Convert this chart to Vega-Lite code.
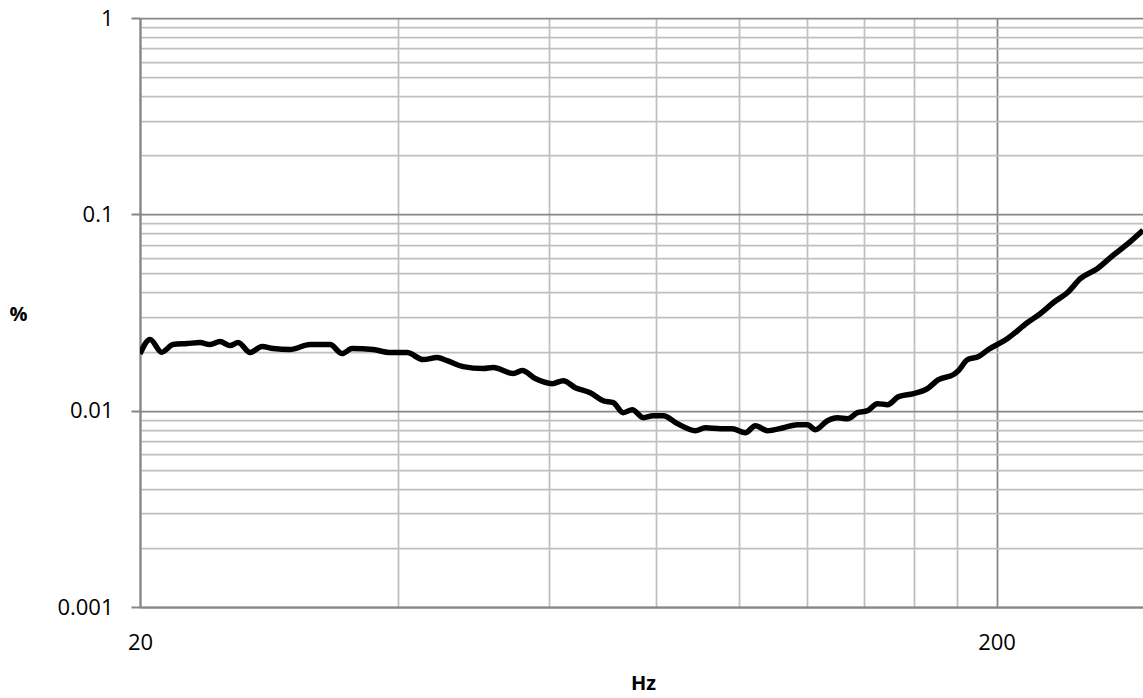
{
  "$schema": "https://vega.github.io/schema/vega-lite/v6.json",
  "width": 1003,
  "height": 589,
  "autosize": {"type": "none"},
  "padding": {"left": 140, "top": 18, "right": 0, "bottom": 91},
  "background": "white",
  "config": {
    "view": {"stroke": null},
    "font": "Open Sans"
  },
  "data": {
    "values": [
      {"hz": 20.0, "pct": 0.01947},
      {"hz": 20.55, "pct": 0.02303},
      {"hz": 21.2, "pct": 0.01984},
      {"hz": 21.86, "pct": 0.02172},
      {"hz": 22.7, "pct": 0.02197},
      {"hz": 23.5, "pct": 0.02223},
      {"hz": 24.14, "pct": 0.02172},
      {"hz": 24.8, "pct": 0.02249},
      {"hz": 25.48, "pct": 0.02146},
      {"hz": 26.04, "pct": 0.02223},
      {"hz": 26.89, "pct": 0.01977},
      {"hz": 27.77, "pct": 0.02121},
      {"hz": 28.61, "pct": 0.02072},
      {"hz": 29.94, "pct": 0.02048},
      {"hz": 31.59, "pct": 0.02172},
      {"hz": 33.34, "pct": 0.02172},
      {"hz": 34.43, "pct": 0.01953},
      {"hz": 35.37, "pct": 0.02072},
      {"hz": 37.43, "pct": 0.02048},
      {"hz": 39.18, "pct": 0.01977},
      {"hz": 41.01, "pct": 0.01977},
      {"hz": 42.82, "pct": 0.0182},
      {"hz": 44.46, "pct": 0.01864},
      {"hz": 45.67, "pct": 0.01799},
      {"hz": 47.68, "pct": 0.01677},
      {"hz": 50.32, "pct": 0.01638},
      {"hz": 51.69, "pct": 0.01658},
      {"hz": 54.55, "pct": 0.01545},
      {"hz": 55.88, "pct": 0.016},
      {"hz": 57.87, "pct": 0.01457},
      {"hz": 60.58, "pct": 0.01373},
      {"hz": 62.4, "pct": 0.01422},
      {"hz": 64.44, "pct": 0.0131},
      {"hz": 67.09, "pct": 0.01235},
      {"hz": 69.48, "pct": 0.01124},
      {"hz": 71.38, "pct": 0.01099},
      {"hz": 73.33, "pct": 0.00977},
      {"hz": 75.12, "pct": 0.01012},
      {"hz": 77.38, "pct": 0.00921},
      {"hz": 79.49, "pct": 0.00943},
      {"hz": 81.66, "pct": 0.00943},
      {"hz": 84.79, "pct": 0.00859},
      {"hz": 89.0, "pct": 0.00791},
      {"hz": 91.43, "pct": 0.00819},
      {"hz": 95.2, "pct": 0.0081},
      {"hz": 98.31, "pct": 0.0081},
      {"hz": 101.8, "pct": 0.00772},
      {"hz": 104.6, "pct": 0.00838},
      {"hz": 108.0, "pct": 0.00791},
      {"hz": 112.8, "pct": 0.00819},
      {"hz": 117.1, "pct": 0.00848},
      {"hz": 120.3, "pct": 0.00848},
      {"hz": 122.9, "pct": 0.008},
      {"hz": 126.95, "pct": 0.00889},
      {"hz": 130.4, "pct": 0.00921},
      {"hz": 133.97, "pct": 0.0091},
      {"hz": 137.6, "pct": 0.00977},
      {"hz": 141.4, "pct": 0.01},
      {"hz": 145.2, "pct": 0.01086},
      {"hz": 149.2, "pct": 0.01073},
      {"hz": 153.7, "pct": 0.01179},
      {"hz": 160.0, "pct": 0.01221},
      {"hz": 166.1, "pct": 0.01295},
      {"hz": 171.1, "pct": 0.0144},
      {"hz": 178.2, "pct": 0.01527},
      {"hz": 180.6, "pct": 0.016},
      {"hz": 185.0, "pct": 0.0182},
      {"hz": 190.6, "pct": 0.01886},
      {"hz": 195.7, "pct": 0.02048},
      {"hz": 206.0, "pct": 0.0233},
      {"hz": 217.4, "pct": 0.02812},
      {"hz": 225.1, "pct": 0.03126},
      {"hz": 233.1, "pct": 0.03556},
      {"hz": 242.1, "pct": 0.04},
      {"hz": 250.7, "pct": 0.04715},
      {"hz": 262.4, "pct": 0.05303},
      {"hz": 271.8, "pct": 0.06034},
      {"hz": 286.8, "pct": 0.07282},
      {"hz": 296.5, "pct": 0.08287}
    ]
  },
  "mark": {"type": "line", "color": "#000000", "strokeWidth": 5.5, "interpolate": "monotone", "clip": true},
  "encoding": {
    "x": {
      "field": "hz",
      "type": "quantitative",
      "scale": {"type": "log", "domain": [20, 296.5], "nice": false, "zero": false},
      "axis": {
        "title": "Hz",
        "titleFont": "Open Sans",
        "titleFontSize": 20,
        "titleFontWeight": "bold",
        "titleColor": "#000000",
        "titleAngle": 0,
        "titleAlign": "center",
        "titleBaseline": "middle",
        "titleX": 503,
        "titleY": 76,
        "values": [20, 40, 60, 80, 100, 120, 140, 160, 180, 200],
        "format": "d",
        "labelExpr": "datum.value == 20 || datum.value == 200 ? datum.label : ''",
        "labelOverlap": false,
        "labelBound": false,
        "labelFlush": false,
        "labelFont": "Open Sans",
        "labelFontSize": 22,
        "labelColor": "#000000",
        "labelPadding": 25,
        "ticks": false,
        "tickSize": 0,
        "domain": true,
        "domainColor": "#868686",
        "domainWidth": 2,
        "grid": true,
        "gridColor": {"condition": {"test": "datum.value == 200 || datum.value == 20", "value": "#868686"}, "value": "#bfbfbf"},
        "gridWidth": 1.75
      }
    },
    "y": {
      "field": "pct",
      "type": "quantitative",
      "scale": {"type": "log", "domain": [0.001, 1], "nice": false, "zero": false},
      "axis": {
        "title": "%",
        "titleFont": "Open Sans",
        "titleFontSize": 20,
        "titleFontWeight": "bold",
        "titleColor": "#000000",
        "titleAngle": 0,
        "titleAlign": "center",
        "titleBaseline": "middle",
        "titleX": -122,
        "titleY": 296,
        "values": [0.001, 0.002, 0.003, 0.004, 0.005, 0.006, 0.007, 0.008, 0.009, 0.01, 0.02, 0.03, 0.04, 0.05, 0.06, 0.07, 0.08, 0.09, 0.1, 0.2, 0.3, 0.4, 0.5, 0.6, 0.7, 0.8, 0.9, 1],
        "format": "~g",
        "labelExpr": "datum.value == 0.001 || datum.value == 0.01 || datum.value == 0.1 || datum.value == 1 ? datum.label : ''",
        "labelOverlap": false,
        "labelBound": false,
        "labelFlush": false,
        "labelFont": "Open Sans",
        "labelFontSize": 22,
        "labelColor": "#000000",
        "labelPadding": 18,
        "ticks": true,
        "tickSize": 9,
        "tickWidth": 2,
        "tickColor": "#868686",
        "tickOpacity": {"condition": {"test": "datum.value == 0.001 || datum.value == 0.01 || datum.value == 0.1 || datum.value == 1", "value": 1}, "value": 0},
        "domain": true,
        "domainColor": "#868686",
        "domainWidth": 2,
        "grid": true,
        "gridColor": {"condition": {"test": "datum.value == 0.001 || datum.value == 0.01 || datum.value == 0.1 || datum.value == 1", "value": "#868686"}, "value": "#bfbfbf"},
        "gridWidth": 1.75
      }
    }
  }
}
